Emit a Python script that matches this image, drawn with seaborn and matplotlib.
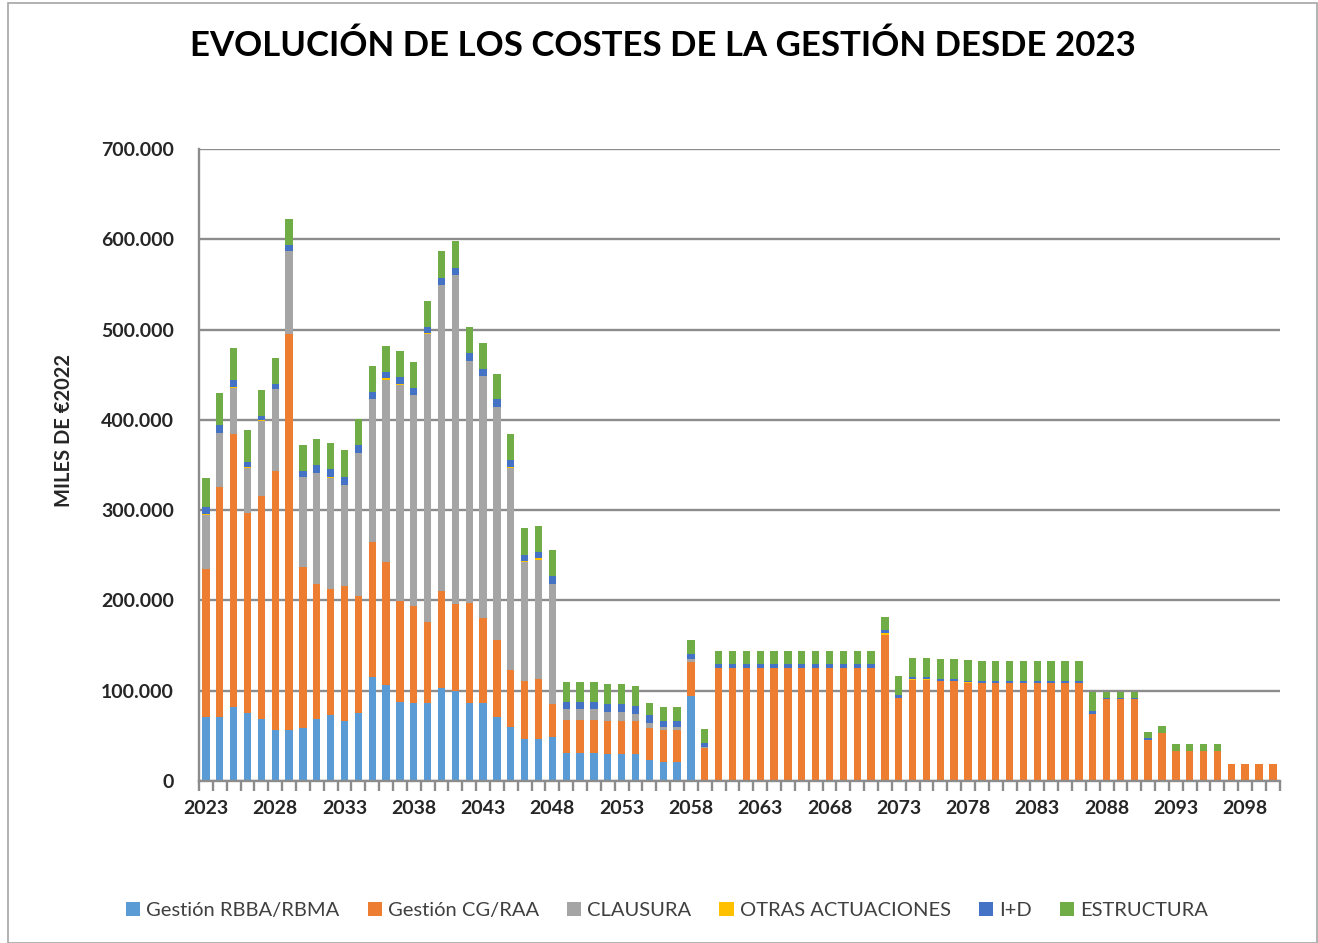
import numpy as np
import pandas as pd
import seaborn as sns
import matplotlib.pyplot as plt
from matplotlib.patches import Patch, Rectangle
from matplotlib.ticker import FuncFormatter

# Years on the x axis
years = list(range(2023, 2101))

# Costs per year (miles de €2022)
rbba = [71000, 71000, 81500, 75500, 68500, 56500, 56500, 58000, 68500, 72500,
        66000, 75500, 114500, 106000, 87500, 86500, 86500, 102500, 99500, 86500,
        86500, 71000, 60000, 46500, 46500, 48500, 31000, 31000, 31000, 29500,
        29500, 29500, 22500, 20500, 20500, 93500, 0, 0, 0, 0,
        0, 0, 0, 0, 0, 0, 0, 0, 0, 0,
        0, 0, 0, 0, 0, 0, 0, 0, 0, 0,
        0, 0, 0, 0, 0, 0, 0, 0, 0, 0,
        0, 0, 0, 0, 0, 0, 0, 0]

cg_raa = [164000, 255000, 303000, 221000, 246500, 286500, 438500, 179000, 149500, 139500,
          149500, 129500, 150500, 136500, 111500, 107000, 89000, 107500, 96000, 110500,
          93500, 84500, 62500, 64000, 66500, 37000, 36000, 36000, 36000, 37000,
          37000, 37000, 36000, 36000, 36000, 38000, 36000, 125500, 125500, 125500,
          125500, 125500, 125500, 125500, 125500, 125500, 125500, 125500, 125500, 162000,
          92000, 111500, 111500, 110500, 110500, 108500, 108500, 108500, 108500, 108500,
          108500, 108500, 108500, 108500, 73500, 90500, 90500, 90500, 45000, 52500,
          33000, 33000, 33000, 33000, 19000, 19000, 19000, 19000]

clausura = [60000, 59000, 51000, 50000, 84000, 91000, 91500, 99500, 123000, 124000,
            112000, 158000, 157500, 202000, 239500, 233500, 320000, 339000, 364500, 268000,
            268000, 258500, 224000, 132000, 132000, 132500, 12000, 12000, 12000, 10000,
            10000, 8000, 6000, 3500, 3500, 3500, 1000, 0, 0, 0,
            0, 0, 0, 0, 0, 0, 0, 0, 0, 0,
            0, 0, 0, 0, 0, 0, 0, 0, 0, 0,
            0, 0, 0, 0, 0, 0, 0, 0, 0, 0,
            0, 0, 0, 0, 0, 0, 0, 0]

otras = [500, 500, 500, 1500, 500, 500, 500, 500, 500, 500,
         500, 500, 500, 1500, 1500, 500, 500, 500, 500, 500,
         500, 500, 1500, 500, 1500, 500, 0, 0, 0, 0,
         0, 0, 0, 0, 0, 0, 0, 0, 0, 0,
         0, 0, 0, 0, 0, 0, 0, 0, 0, 2000,
         0, 1500, 1500, 500, 500, 500, 0, 0, 0, 0,
         0, 0, 0, 0, 0, 0, 0, 0, 0, 0,
         0, 0, 0, 0, 0, 0, 0, 0]

i_d = [7500, 9000, 8500, 5000, 5000, 5000, 6500, 6500, 8500, 8500,
       8500, 8000, 8000, 7000, 7000, 8000, 7000, 8000, 8000, 8000,
       8000, 8000, 7000, 7500, 6500, 8500, 8500, 8500, 8500, 8500,
       8500, 8000, 8000, 6000, 6000, 6000, 4500, 3500, 3500, 3500,
       3500, 3500, 3500, 3500, 3500, 3500, 3500, 3500, 3500, 3000,
       3000, 2000, 2000, 2000, 2000, 2000, 2000, 2000, 2000, 2000,
       2000, 2000, 2000, 2000, 3500, 1500, 1500, 1500, 2000, 0,
       0, 0, 0, 0, 0, 0, 0, 0]

estructura = [33000, 35000, 35000, 36000, 28500, 28500, 28500, 28500, 29000, 29000,
              29500, 29000, 28500, 29000, 29000, 29000, 29000, 29000, 30000, 29000,
              29000, 28500, 29000, 29500, 29500, 29000, 21500, 21500, 21500, 22000,
              22000, 22000, 14000, 15500, 15500, 15000, 16000, 14500, 14500, 14500,
              14500, 14500, 14500, 14500, 14500, 14500, 14500, 14500, 14500, 14000,
              21500, 21500, 21500, 21500, 21500, 22500, 22000, 22000, 22000, 22000,
              22000, 22000, 22000, 22000, 21500, 6500, 6500, 6500, 7500, 8000,
              8000, 8000, 8000, 8000, 0, 0, 0, 0]

series_names = ["Gestión RBBA/RBMA", "Gestión CG/RAA", "CLAUSURA",
                "OTRAS ACTUACIONES", "I+D", "ESTRUCTURA"]
colors = ["#5B9BD5", "#ED7D31", "#A5A5A5", "#FFC000", "#4472C4", "#70AD47"]

data = pd.DataFrame({
    "year": [str(y) for y in years],
    series_names[0]: rbba,
    series_names[1]: cg_raa,
    series_names[2]: clausura,
    series_names[3]: otras,
    series_names[4]: i_d,
    series_names[5]: estructura,
})

# cumulative sums so that each layer can be drawn over the one above it
cum = data[series_names].cumsum(axis=1)

sns.set_theme(style="white")
plt.rcParams['font.family'] = ['Lato', 'DejaVu Sans']

fig = plt.figure(figsize=(13.18, 9.43), dpi=100)
ax = fig.add_axes([0.151, 0.172, 0.820, 0.670])

order = data["year"].tolist()
# draw top layer first, then the lower stacks on top of it
for name, col in reversed(list(zip(series_names, colors))):
    sns.barplot(x=data["year"], y=cum[name], order=order, color=col,
                saturation=1, width=0.53, linewidth=0, ax=ax)

grid_col = "#8C8C8C"
ax.set_xlim(-0.5, len(years) - 0.5)
ax.set_ylim(0, 700000)
ax.set_yticks(np.arange(0, 700001, 100000))
ax.yaxis.set_major_formatter(FuncFormatter(lambda v, p: f"{int(v):,}".replace(",", ".")))
ax.yaxis.grid(True, color=grid_col, linewidth=1.7)
ax.set_axisbelow(True)

ax.set_xticks(range(0, len(years), 5))
ax.set_xticklabels([str(y) for y in years[::5]])
ax.set_xticks(np.arange(-0.5, len(years), 1), minor=True)
ax.tick_params(axis="x", which="major", length=0, pad=14, labelsize=14)
ax.tick_params(axis="x", which="minor", length=7, width=1.7, color=grid_col, direction="out")
ax.tick_params(axis="y", which="major", length=6, width=1.7, color=grid_col, pad=12, labelsize=14)
ax.tick_params(axis="x", which="minor", bottom=True)
for lab in ax.get_xticklabels() + ax.get_yticklabels():
    lab.set_fontweight("bold")

for s in ["top", "right"]:
    ax.spines[s].set_visible(False)
for s in ["left", "bottom"]:
    ax.spines[s].set_color(grid_col)
    ax.spines[s].set_linewidth(1.7)

ax.set_xlabel("")
ax.set_ylabel("MILES DE €2022", fontsize=14.5, fontweight="bold")
ax.yaxis.set_label_coords(-0.116, 0.555)

fig.text(0.503, 0.951, "EVOLUCIÓN DE LOS COSTES DE LA GESTIÓN DESDE 2023",
         ha="center", va="center", fontsize=25, fontweight="bold", color="black")

handles = [Patch(facecolor=c, edgecolor="none") for c in colors]
fig.legend(handles, series_names, loc="center", bbox_to_anchor=(0.506, 0.034),
           ncol=6, frameon=False, fontsize=14.5, handlelength=0.7, handleheight=0.7,
           handletextpad=0.3, columnspacing=1.4, labelcolor="#404040")

# chart frame
fig.patches.append(Rectangle((0.006, 0.0), 0.993, 0.997, transform=fig.transFigure,
                             fill=False, edgecolor="#A6A6A6", linewidth=1.2))

fig.savefig("out.png", dpi=100)
